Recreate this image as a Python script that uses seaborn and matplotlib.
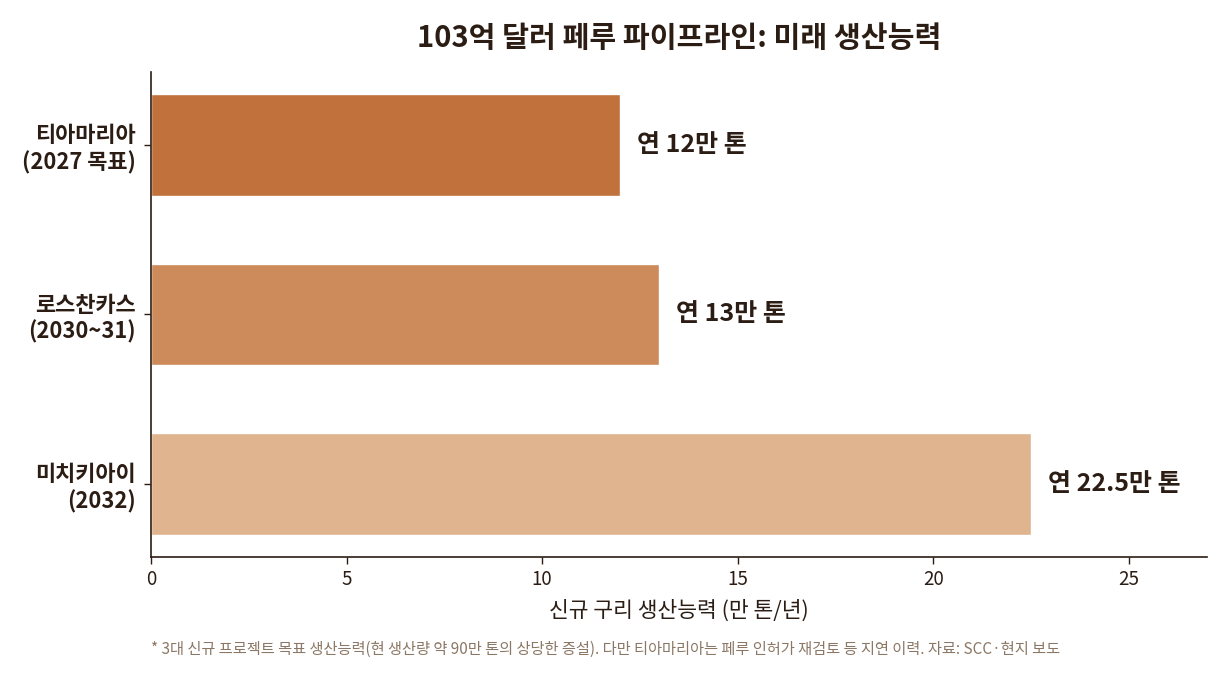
import matplotlib
matplotlib.use("Agg")
import matplotlib.pyplot as plt
import seaborn as sns
import pandas as pd

categories = ["티아마리아\n(2027 목표)", "로스찬카스\n(2030~31)", "미치키아이\n(2032)"]
values = [12, 13, 22.5]
value_labels = ["연 12만 톤", "연 13만 톤", "연 22.5만 톤"]
colors = ["#C0713C", "#CD8A5B", "#E0B48E"]
xticks = [0, 5, 10, 15, 20, 25]

title = "103억 달러 페루 파이프라인: 미래 생산능력"
xlabel = "신규 구리 생산능력 (만 톤/년)"
footnote = "* 3대 신규 프로젝트 목표 생산능력(현 생산량 약 90만 톤의 상당한 증설). 다만 티아마리아는 페루 인허가 재검토 등 지연 이력. 자료: SCC·현지 보도"

sns.set_theme(style="white")
plt.rcParams['font.family'] = ['Noto Sans CJK KR', 'DejaVu Sans']

dark = "#2B1D14"
df = pd.DataFrame({"cat": categories, "val": values})

fig = plt.figure(figsize=(12.3, 6.9), dpi=100)
ax = fig.add_axes([0.1228, 0.1928, 0.8585, 0.7029])
sns.barplot(data=df, y="cat", x="val", hue="cat", palette=colors, legend=False,
            width=0.6, ax=ax, orient="h", saturation=1)
ax.set_xlim(0, 27)
ax.set_ylim(2.43, -0.43)
ax.set_xticks(xticks)
ax.set_xticklabels([str(t) for t in xticks], fontsize=13.5, color=dark)
ax.set_yticks(range(len(categories)))
ax.set_yticklabels(categories, fontsize=15.8, fontweight="bold", color=dark, linespacing=1.2)
for lbl in ax.get_yticklabels():
    lbl.set_multialignment("right")
ax.set_ylabel("")
ax.set_xlabel(xlabel, fontsize=15.5, color=dark, labelpad=7)
ax.tick_params(axis="both", which="both", length=5, width=1, color=dark, left=True, bottom=True)
ax.tick_params(axis="y", pad=6)
for s in ["top", "right"]:
    ax.spines[s].set_visible(False)
for s in ["left", "bottom"]:
    ax.spines[s].set_color(dark)
    ax.spines[s].set_linewidth(1.2)

for i, (v, t) in enumerate(zip(values, value_labels)):
    ax.text(v + 0.43, i, t, va="center", ha="left", fontsize=18, fontweight="bold", color=dark)

fig.text(0.552, 0.945, title, ha="center", va="center", fontsize=21, fontweight="bold", color=dark)
fig.text(0.1228, 0.059, footnote, ha="left", va="center", fontsize=11, color="#8B7765")

fig.savefig("out.png", dpi=100)
